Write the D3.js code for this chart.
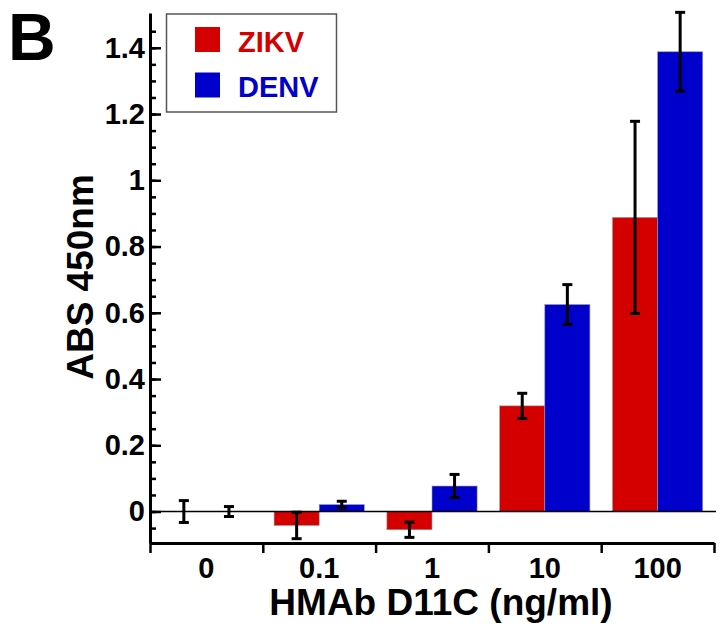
<!DOCTYPE html>
<meta charset="utf-8">
<html>
<head>
  <title>HMAb D11C</title>
  <style>
    body { margin: 0; background: #fff; }
    text { font-family: "Liberation Sans", Arial, sans-serif; font-weight: bold; }
  </style>
</head>
<body>
<div id="my_dataviz"></div>

<script src="https://d3js.org/d3.v7.min.js"></script>
<script>

    // data
    var groups = ["0", "0.1", "1", "10", "100"];
    var zikv = [0, -0.042, -0.055, 0.319, 0.888];
    var zikvErr = [0.033, 0.04, 0.023, 0.038, 0.29];
    var denv = [0, 0.021, 0.077, 0.625, 1.388];
    var denvErr = [0.015, 0.01, 0.035, 0.06, 0.119];
    var series = ["ZIKV", "DENV"];
    var colors = ["#d40000", "#0000cc"];
    var yTicks = [0, 0.2, 0.4, 0.6, 0.8, 1, 1.2, 1.4];

    var width = 721, height = 627;

    var svg = d3.select("#my_dataviz")
      .append("svg")
        .attr("width", width)
        .attr("height", height);

    // scales
    var x0 = d3.scaleBand()
      .domain(groups)
      .range([150, 714])
      .padding(0);

    var x1 = d3.scaleBand()
      .domain(series)
      .range([x0.bandwidth() * 0.1, x0.bandwidth() * 0.9])
      .padding(0);

    var y = d3.scaleLinear()
      .domain([-0.095, 1.505])
      .range([543, 13]);

    // table built from the arrays
    var data = groups.map(function(g, i) {
      return [
        {group: g, key: "ZIKV", value: zikv[i], err: zikvErr[i], color: colors[0]},
        {group: g, key: "DENV", value: denv[i], err: denvErr[i], color: colors[1]}
      ];
    });
    var flat = [].concat.apply([], data);

    // bars
    svg.append("g")
      .selectAll("rect")
      .data(flat)
      .enter()
      .append("rect")
        .attr("x", function(d) { return x0(d.group) + x1(d.key); })
        .attr("y", function(d) { return y(Math.max(0, d.value)); })
        .attr("width", x1.bandwidth())
        .attr("height", function(d) { return Math.abs(y(d.value) - y(0)); })
        .attr("fill", function(d) { return d.color; })
        .attr("stroke", "#9a9a9a")
        .attr("stroke-width", 0.6);

    // zero line
    svg.append("line")
      .attr("x1", 151).attr("x2", 716)
      .attr("y1", y(0)).attr("y2", y(0))
      .attr("stroke", "#000")
      .attr("stroke-width", 1.4);

    // error bars
    var eb = svg.append("g")
      .selectAll("g")
      .data(flat)
      .enter()
      .append("g")
        .attr("transform", function(d) {
          return "translate(" + (x0(d.group) + x1(d.key) + x1.bandwidth() / 2) + ",0)";
        })
        .attr("stroke", "#000")
        .attr("stroke-width", 3);

    eb.append("line")
      .attr("y1", function(d) { return y(d.value + d.err); })
      .attr("y2", function(d) { return y(d.value - d.err); });
    eb.append("line")
      .attr("x1", -5).attr("x2", 5)
      .attr("y1", function(d) { return y(d.value + d.err); })
      .attr("y2", function(d) { return y(d.value + d.err); });
    eb.append("line")
      .attr("x1", -5).attr("x2", 5)
      .attr("y1", function(d) { return y(d.value - d.err); })
      .attr("y2", function(d) { return y(d.value - d.err); });

    // Y axis: minor ticks, then major ticks with labels
    var minor = d3.range(-0.05, 1.5, 0.05).map(function(v) { return Math.round(v * 100) / 100; });
    var yMinor = svg.append("g")
      .attr("transform", "translate(150,0)")
      .call(d3.axisLeft(y).tickValues(minor).tickFormat("").tickSizeInner(-6).tickSizeOuter(0));
    yMinor.select(".domain").remove();
    yMinor.selectAll("line").attr("stroke-width", 2.5);

    var yAxis = svg.append("g")
      .attr("transform", "translate(150,0)")
      .call(d3.axisLeft(y).tickValues(yTicks).tickFormat(d3.format("")).tickSizeInner(-11).tickSizeOuter(0).tickPadding(5));
    yAxis.select(".domain").attr("stroke-width", 3);
    yAxis.selectAll("line").attr("stroke-width", 2.5);
    yAxis.selectAll("text")
      .style("font-size", "29px")
      .attr("fill", "#000");

    // X axis: boundary ticks
    var xb = d3.scaleLinear().domain([0, groups.length]).range([150, 714]);
    var xAxis = svg.append("g")
      .attr("transform", "translate(0,543)")
      .call(d3.axisBottom(xb).tickValues(d3.range(groups.length + 1)).tickFormat("").tickSizeInner(10).tickSizeOuter(0));
    xAxis.select(".domain").attr("stroke-width", 3);
    xAxis.selectAll("line").attr("stroke-width", 2.5);

    // X labels
    var xLab = svg.append("g")
      .attr("transform", "translate(0,543)")
      .call(d3.axisBottom(x0).tickSize(0).tickPadding(14));
    xLab.select(".domain").remove();
    xLab.selectAll("text")
      .style("font-size", "29px")
      .attr("fill", "#000");

    // axis titles
    svg.append("text")
      .attr("x", 441)
      .attr("y", 615)
      .attr("text-anchor", "middle")
      .style("font-size", "37px")
      .text("HMAb D11C (ng/ml)");

    svg.append("text")
      .attr("transform", "translate(93,277) rotate(-90)")
      .attr("text-anchor", "middle")
      .style("font-size", "37px")
      .text("ABS 450nm");

    // panel letter
    svg.append("text")
      .attr("x", 8)
      .attr("y", 60)
      .style("font-size", "66px")
      .text("B");

    // legend
    var legend = svg.append("g");
    legend.append("rect")
      .attr("x", 166.5).attr("y", 14)
      .attr("width", 170).attr("height", 98)
      .attr("fill", "#fff")
      .attr("stroke", "#555")
      .attr("stroke-width", 1.5);

    series.forEach(function(s, i) {
      legend.append("rect")
        .attr("x", 195).attr("y", 27 + i * 45.5)
        .attr("width", 25).attr("height", 25)
        .attr("fill", colors[i]);
      legend.append("text")
        .attr("x", 238).attr("y", 52 + i * 45)
        .style("font-size", "29px")
        .attr("fill", colors[i])
        .text(s);
    });

</script>
</body>
</html>
